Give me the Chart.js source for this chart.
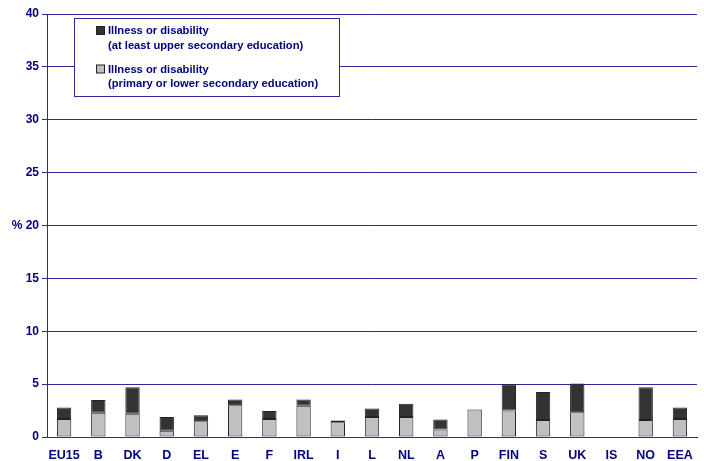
<!DOCTYPE html>
<html>
<head>
<meta charset="utf-8">
<script src="https://cdn.jsdelivr.net/npm/chart.js@4.4.1/dist/chart.umd.min.js"></script>
<style>
  html, body { margin: 0; padding: 0; background: #fff; }
  #wrap { width: 704px; height: 461px; }
</style>
</head>
<body>
<div id="wrap"><canvas id="grafico" width="704" height="461"></canvas></div>
<script>
//Countries
const paises = ['EU15', 'B', 'DK', 'D', 'EL', 'E', 'F', 'IRL', 'I', 'L', 'NL', 'A', 'P', 'FIN', 'S', 'UK', 'IS', 'NO', 'EEA']

//Illness or disability, primary or lower secondary (%)
const primario = [1.7, 2.3, 2.2, 0.6, 1.5, 3.0, 1.7, 2.95, 1.4, 1.9, 1.9, 0.7, 2.6, 2.5, 1.6, 2.35, null, 1.6, 1.7]
//Illness or disability, at least upper secondary (%)
const secundario = [1.1, 1.2, 2.5, 1.3, 0.55, 0.55, 0.75, 0.6, 0.15, 0.8, 1.25, 0.95, null, 2.5, 2.65, 2.7, null, 3.1, 1.1]

//Y axis ticks
const yTicks = [0, 5, 10, 15, 20, 25, 30, 35, 40]

const azul = '#000080'
const linha = '#2a2a9a'

//Legend box drawn by hand (two-line labels)
const legendaBox = {
    id: 'legendaBox',
    afterDraw(chart) {
        const ctx = chart.ctx
        const x = 74, y = 18, w = 265, h = 78
        ctx.save()
        ctx.fillStyle = '#fff'
        ctx.fillRect(x, y, w, h)
        ctx.strokeStyle = linha
        ctx.lineWidth = 1
        ctx.strokeRect(x + 0.5, y + 0.5, w, h)

        const itens = [chart.data.datasets[1], chart.data.datasets[0]]
        ctx.font = 'bold 11.2px "Liberation Sans", Arial, sans-serif'
        ctx.textBaseline = 'middle'
        itens.forEach((ds, i) => {
            const ty = 31 + i * 38.5
            ctx.fillStyle = ds.backgroundColor
            ctx.fillRect(96.5, ty - 4.5, 8, 8)
            ctx.strokeStyle = '#222'
            ctx.strokeRect(96.5, ty - 4.5, 8, 8)
            ctx.fillStyle = azul
            ds.label.split('\n').forEach((t, j) => {
                ctx.fillText(t, 108, ty + j * 14.5)
            })
        })
        ctx.restore()
    }
}

let ctxGrafico = document.getElementById('grafico')
let grafico = new Chart(ctxGrafico, {
    type: 'bar',
    data: {
        labels: paises,
        datasets: [{
            label: 'Illness or disability\n(primary or lower secondary education)',
            data: primario,
            backgroundColor: '#c0c0c0',
            borderColor: '#222',
            borderWidth: 1,
            borderSkipped: false
        }, {
            label: 'Illness or disability\n(at least upper secondary education)',
            data: secundario,
            backgroundColor: '#333333',
            borderColor: '#222',
            borderWidth: 1,
            borderSkipped: false
        }]
    },
    options: {
        responsive: false,
        animation: false,
        layout: { padding: { left: 0, right: 7, top: 14, bottom: 0 } },
        datasets: { bar: { categoryPercentage: 1, barPercentage: 0.42 } },
        plugins: {
            legend: { display: false },
            tooltip: { enabled: false }
        },
        scales: {
            x: {
                stacked: true,
                grid: { display: false },
                border: { color: linha, width: 1 },
                ticks: {
                    color: azul,
                    font: { family: '"Liberation Sans", Arial, sans-serif', size: 12.5, weight: 'bold' },
                    padding: 3,
                    maxRotation: 0,
                    autoSkip: false
                },
                afterFit: s => { s.height = 24 }
            },
            y: {
                stacked: true,
                min: 0,
                max: 40,
                afterBuildTicks: s => { s.ticks = yTicks.map(v => ({ value: v })) },
                grid: { color: linha, lineWidth: 1, tickLength: 5 },
                border: { color: linha, width: 1 },
                ticks: {
                    color: azul,
                    font: { family: '"Liberation Sans", Arial, sans-serif', size: 12, weight: 'bold' },
                    padding: 3,
                    callback: v => v === 20 ? '% 20' : v
                },
                afterFit: s => { s.width = 47 }
            }
        }
    },
    plugins: [legendaBox]
})
</script>
</body>
</html>
